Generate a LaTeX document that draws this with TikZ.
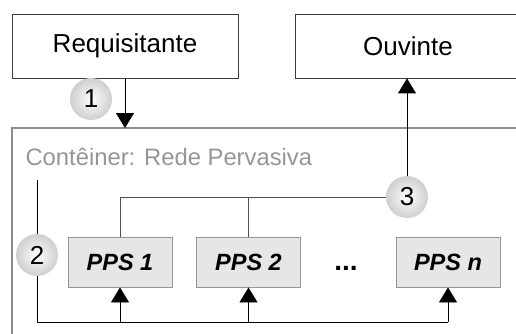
\documentclass[tikz,border=0pt]{standalone}
\usepackage{fontspec}
\setmainfont{Liberation Sans}
\usetikzlibrary{positioning, arrows.meta, calc}
\definecolor{boxBorder}{RGB}{60, 60, 60}
\definecolor{frameGray}{RGB}{140, 140, 140}
\definecolor{labelGray}{RGB}{150, 150, 150}
\definecolor{ppsFill}{RGB}{230, 230, 230}
\definecolor{ppsBorder}{RGB}{150, 150, 150}
\definecolor{wireGray}{RGB}{80, 80, 80}

\begin{document}
\begin{tikzpicture}[
    x=1pt, y=-1pt,
    every node/.style={font=\fontsize{26}{30}\selectfont},
    actor/.style={
        rectangle, draw=boxBorder, line width=0.8pt,
        minimum width=226pt, minimum height=64pt, inner sep=0pt
    },
    ppsbox/.style={
        rectangle, draw=ppsBorder, fill=ppsFill, line width=0.9pt,
        minimum width=104pt, minimum height=50pt, inner sep=0pt,
        font=\fontsize{23.5}{28}\selectfont\bfseries\itshape
    },
    numcircle/.style={
        circle, minimum size=42pt, inner sep=0pt, shading=radial,
        inner color=white, outer color=gray!38,
        font=\fontsize{26}{30}\selectfont
    },
    frame/.style={draw=frameGray, line width=1.1pt},
    wire/.style={draw=wireGray, line width=0.8pt},
    seta/.style={-{Triangle[length=15pt, width=18pt]}, line width=0.9pt, draw=black}
]
\clip (0,0) rectangle (516,333);

% --- Actors outside the container ------------------------------------------
\node[actor] (req) at (125,46) {Requisitante};
\node[actor] (ouv) at (408,46) {Ouvinte};

% --- Container: pervasive network -------------------------------------------
\draw[frame] (12,128) rectangle (540,360);
\node[anchor=west, text=labelGray, font=\fontsize{23.8}{28}\selectfont] (lbl) at (22,157) {Contêiner: Rede Pervasiva};
\coordinate (ctop) at (125,128);

% --- PPS nodes --------------------------------------------------------------
\node[ppsbox] (pps1) at (120,262) {PPS 1};
\node[ppsbox] (pps2) at (248.5,262) {PPS 2};
\node[ppsbox] (ppsn) at (448,262) {PPS n};
\node[font=\fontsize{28}{30}\selectfont\bfseries] (dots) at (346,268) {...};

% --- Step circles -----------------------------------------------------------
\node[numcircle] (c1) at (91,99) {1};
\node[numcircle] (c2) at (37,255) {2};
\node[numcircle] (c3) at (407,197) {3};

% --- Connectors -------------------------------------------------------------
% step 1: request enters the container
\draw[seta] (req.south) -- (ctop);
% step 3: PPS answers go up to the listener
\draw[wire] (pps1.north) -- (pps1.north |- c3.west) -- (c3.west);
\draw[wire] (pps2.north) -- (pps2.north |- c3.west);
\draw[seta] (c3.north) -- (c3.north |- ouv.south);
% step 2: request distributed to every PPS
\coordinate (l2top) at (37,180);
\coordinate (l2bot) at (37,322);
\draw[line width=0.9pt] (l2top) -- (c2.north);
\draw[line width=0.9pt] (c2.south) -- (l2bot) -- (l2bot -| ppsn);
\foreach \p in {pps1, pps2, ppsn}
    \draw[seta] (l2bot -| \p) -- (\p.south);

\end{tikzpicture}
\end{document}
